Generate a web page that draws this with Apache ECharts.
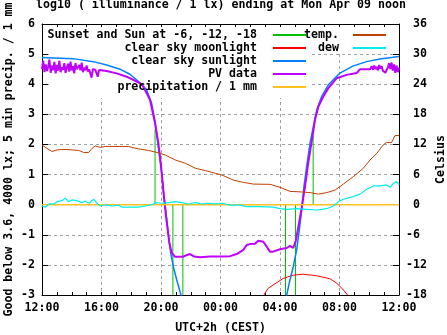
<!DOCTYPE html>
<html><head><meta charset="utf-8">
<script src="https://cdn.jsdelivr.net/npm/echarts@6/dist/echarts.min.js"></script>
<style>html,body{margin:0;padding:0;background:#fff}#c{width:447px;height:335px}</style>
</head><body><div id="c"></div>
<script>
// time in hours after 12:00 (Apr 08), values: log10(lx) on left axis, Celsius on right axis
const sunTimes = [7.6, 8.8, 9.47, 16.37, 17.04, 18.23];
const sunHeights = [2.5, -3, -3, -3, -3, 2.3];

const moonData = [[14.92,-3.0],[15.2,-2.78],[15.53,-2.67],[16.0,-2.52],[16.21,-2.45],[16.88,-2.34],[17.55,-2.31],[18.46,-2.36],[19.35,-2.46],[19.8,-2.6],[20.2,-2.8],[20.58,-3.02]];

const sunData = [[0,4.89],[2.1,4.85],[3.45,4.75],[4.35,4.64],[5.24,4.5],[5.91,4.33],[6.59,4.05],[7.04,3.81],[7.37,3.37],[7.6,2.76],[7.82,1.93],[8.05,1.05],[8.2,0.27],[8.34,-0.28],[8.49,-0.94],[8.65,-1.6],[8.83,-2.06],[9.06,-2.5],[9.28,-2.89],[9.48,-3.25],[9.68,-3.6],
  [12,null],
  [16.2,-3.5],[16.45,-3.0],[16.67,-2.5],[16.89,-2.06],[17.12,-1.5],[17.3,-0.84],[17.46,-0.18],[17.61,0.6],[17.79,1.26],[18.02,2.04],[18.24,2.59],[18.47,3.15],[18.8,3.59],[19.25,3.98],[20.03,4.37],[20.93,4.61],[21.83,4.75],[22.72,4.84],[24,4.92]];

// PV data: noisy start (5 min steps from 12:00), smooth middle, noisy end (5 min steps after 10:00)
const pvStartValues = [4.50,4.78,4.40,4.66,4.44,4.58,4.82,4.38,4.62,4.46,4.74,4.36,4.64,4.45,4.78,4.40,4.56,4.48,4.70,4.38,4.55,4.68,4.42,4.75,4.46,4.60,4.36,4.70,4.50,4.44,4.64,4.46,4.72,4.40,4.55,4.46,4.62,4.42,4.50,
  4.50,4.22,4.50,4.49,4.48,4.47,4.25,4.47];
const pvMiddle = [[3.9,4.47],[4.35,4.44],[5.02,4.36],[5.69,4.25],[6.37,4.09],[6.59,4.03],[6.81,3.92],[7.26,3.48],[7.6,2.71],[7.82,2.05],[7.98,1.39],[8.11,0.72],[8.22,0.16],[8.34,-0.4],[8.45,-0.84],[8.56,-1.27],[8.72,-1.6],[8.94,-1.73],[9.48,-1.73],[9.75,-1.67],[9.95,-1.64],[10.22,-1.72],[10.62,-1.75],[11.29,-1.72],[11.97,-1.72],[12.64,-1.71],[13.09,-1.64],[13.53,-1.5],[13.76,-1.34],[13.98,-1.31],[14.32,-1.3],[14.54,-1.2],[14.88,-1.23],[15.11,-1.4],[15.33,-1.56],[15.53,-1.56],[16.0,-1.48],[16.45,-1.44],[16.67,-1.37],[16.89,-1.44],[17.06,-1.2],[17.23,-0.75],[17.46,-0.1],[17.68,0.6],[17.9,1.4],[18.13,2.1],[18.35,2.81],[18.58,3.26],[18.91,3.59],[19.25,3.87],[19.81,4.2],[20.48,4.31],[21.16,4.37],[21.38,4.5],[22.05,4.5]];
const pvEndValues = [4.52,4.60,4.48,4.62,4.50,4.58,4.46,4.64,4.52,4.60,4.45,4.40,4.38,4.48,4.55,4.70,4.50,4.72,4.45,4.66,4.38,4.62,4.40,4.55];

const precipData = [[0,0],[24,0]];

const tempData = [[0,11.9],[0.34,11.2],[0.67,10.6],[1.01,10.9],[1.34,11.0],[1.68,11.0],[1.79,10.8],[2.47,10.8],[2.8,10.4],[3.14,10.4],[3.36,11.2],[3.58,11.7],[3.92,11.4],[4.26,11.6],[5.83,11.6],[6.05,11.4],[6.5,11.1],[7.17,10.8],[7.73,10.4],[8.29,9.9],[8.96,8.9],[9.63,8.25],[10.31,7.25],[10.98,6.8],[11.65,6.25],[12.1,5.9],[12.86,4.9],[13.53,4.45],[14.2,4.1],[15.33,4.05],[16.0,3.45],[16.67,2.65],[17.34,2.55],[18.02,2.4],[18.58,2.1],[19.14,2.4],[19.7,2.9],[20.26,4.1],[20.93,5.6],[21.6,7.25],[22.05,8.9],[22.5,10.2],[22.94,11.9],[23.17,12.4],[23.51,12.4],[23.73,13.75],[24,13.8]];

const dewData = [[0,-0.26],[0.22,-0.5],[0.47,0.14],[0.81,0.14],[1.01,0.6],[1.34,0.8],[1.57,1.27],[1.79,0.6],[2.02,0.94],[2.35,0.8],[2.69,0.4],[2.91,0.7],[3.14,0.28],[3.48,1.07],[3.7,0.28],[3.92,-0.26],[4.26,-0.06],[4.71,-0.26],[5.16,-0.1],[5.38,-0.5],[6.5,-0.5],[6.94,-0.26],[7.39,0],[7.62,0.4],[8.07,0.28],[8.52,0.4],[8.96,0.6],[9.41,0.4],[9.86,0.14],[10.31,0.4],[10.76,0.14],[11.21,0.28],[11.65,0.14],[12.1,0.28],[12.64,-0.1],[13.31,-0.1],[13.76,-0.4],[14.66,-0.4],[15.55,-0.5],[16.0,-0.8],[16.45,-0.93],[17.12,-0.8],[17.79,-0.93],[18.47,-1.06],[19.14,-0.8],[19.58,-0.26],[20.03,0.8],[20.48,1.27],[20.93,1.6],[21.38,2.1],[21.83,3.07],[22.27,3.73],[22.72,3.73],[23.17,3.93],[23.4,3.47],[23.62,4.26],[23.85,4.6],[24,3.93]];

const seriesNames = ['Sunset and Sun at -6, -12, -18','clear sky moonlight','clear sky sunlight','PV data','precipitation / 1 mm','temp.','dew'];
const seriesColors = ['#00c000','#ff0000','#0080ff','#c000ff','#ffc020','#c04000','#00eeee'];

const sunLines = [];
sunTimes.forEach((t,i)=>{ sunLines.push([t,0],[t,sunHeights[i]],[t,null]); });
const pvData = [];
pvStartValues.forEach((v,i)=>pvData.push([i/12, v]));
pvMiddle.forEach(p=>pvData.push(p));
pvEndValues.forEach((v,i)=>pvData.push([22+(i+1)/12, v]));

const FONT = 'DejaVu Sans Mono';
const txt = {fontFamily: FONT, fontWeight: 'bold', fontSize: 11.6, color: '#000'};
const grid = {left: 42, right: 48, top: 24, bottom: 40, outerBoundsMode: 'none', containLabel: false};
const dash = {color: '#a0a0a0', type: [3,3], width: 1};

function fmtX(v){ const h = (12 + v) % 24; return (h < 10 ? '0' : '') + h + ':00'; }

const chart = echarts.init(document.getElementById('c'), null, {renderer: 'canvas'});
const allData = [sunLines, moonData, sunData, pvData, precipData, tempData, dewData];
const widths = [1, 1, 1.5, 2, 1.5, 1, 1.2];
const legendBase = {orient: 'vertical', align: 'right', top: 28.5, padding: 0, itemGap: 0, itemWidth: 33, itemHeight: 2, icon: 'rect', selectedMode: false};
chart.setOption({
  animation: false,
  backgroundColor: '#fff',
  title: {text: 'log10 ( illuminance / 1 lx) ending at Mon Apr 09 noon', left: 36, top: -1, padding: 0, textStyle: Object.assign({}, txt)},
  grid: grid,
  graphic: [
    {type: 'rect', shape: {x: 49, y: 28, width: 262, height: 70}, style: {fill: '#fff'}, z: 1, silent: true},
    {type: 'rect', shape: {x: 311, y: 28, width: 81, height: 24}, style: {fill: '#fff'}, z: 1, silent: true}
  ],
  legend: [
    Object.assign({right: 141, data: seriesNames.slice(0,5), textStyle: Object.assign({lineHeight: 13, padding: [0, 11, 0, 0]}, txt)}, legendBase),
    Object.assign({right: 61, data: seriesNames.slice(5), textStyle: Object.assign({lineHeight: 13, padding: [0, 9, 0, 0]}, txt)}, legendBase)
  ],
  xAxis: [
    {type: 'value', min: 0, max: 24, interval: 4, position: 'bottom',
     name: 'UTC+2h (CEST)', nameLocation: 'middle', nameGap: 27, nameMoveOverlap: false, nameTextStyle: Object.assign({}, txt),
     axisLine: {onZero: false, lineStyle: {color: '#000', width: 1}},
     axisTick: {inside: true, length: 3, lineStyle: {color: '#000'}},
     minorTick: {show: true, splitNumber: 4, length: 3, lineStyle: {color: '#000'}},
     axisLabel: Object.assign({margin: 7, formatter: fmtX}, txt),
     splitLine: {show: true, lineStyle: dash}},
    {type: 'value', min: 0, max: 24, interval: 4, position: 'top',
     axisLine: {onZero: false, lineStyle: {color: '#000', width: 1}},
     axisTick: {inside: true, length: 3, lineStyle: {color: '#000'}},
     minorTick: {show: true, splitNumber: 4, length: 3, lineStyle: {color: '#000'}},
     axisLabel: {show: false}, splitLine: {show: false}}
  ],
  yAxis: [
    {type: 'value', min: -3, max: 6, interval: 1, position: 'left',
     name: 'Good below 3.6, 4000 lx; 5 min precip. / 1 mm', nameLocation: 'middle', nameGap: 27, nameRotate: 90, nameMoveOverlap: false,
     nameTextStyle: Object.assign({}, txt),
     axisLine: {show: true, onZero: false, lineStyle: {color: '#000', width: 1}},
     axisTick: {show: true, inside: true, length: 6, lineStyle: {color: '#000'}},
     axisLabel: Object.assign({margin: 7}, txt),
     splitLine: {show: true, lineStyle: dash}},
    {type: 'value', min: -18, max: 36, interval: 6, position: 'right',
     name: 'Celsius', nameLocation: 'middle', nameGap: 36, nameRotate: 90, nameMoveOverlap: false,
     nameTextStyle: Object.assign({}, txt),
     axisLine: {show: true, onZero: false, lineStyle: {color: '#000', width: 1}},
     axisTick: {show: true, inside: true, length: 6, lineStyle: {color: '#000'}},
     axisLabel: Object.assign({margin: 7, align: 'left', formatter: v => (v < 0 ? '' : '\u00a0') + v}, txt),
     splitLine: {show: false}}
  ],
  series: seriesNames.map((n, i) => ({
    name: n, type: 'line', data: allData[i], yAxisIndex: i >= 5 ? 1 : 0,
    symbol: 'none', showSymbol: false, connectNulls: false, clip: true,
    color: seriesColors[i], lineStyle: {color: seriesColors[i], width: widths[i]},
    emphasis: {disabled: true}, z: 2 + i * 0.01
  }))
});
</script></body></html>
